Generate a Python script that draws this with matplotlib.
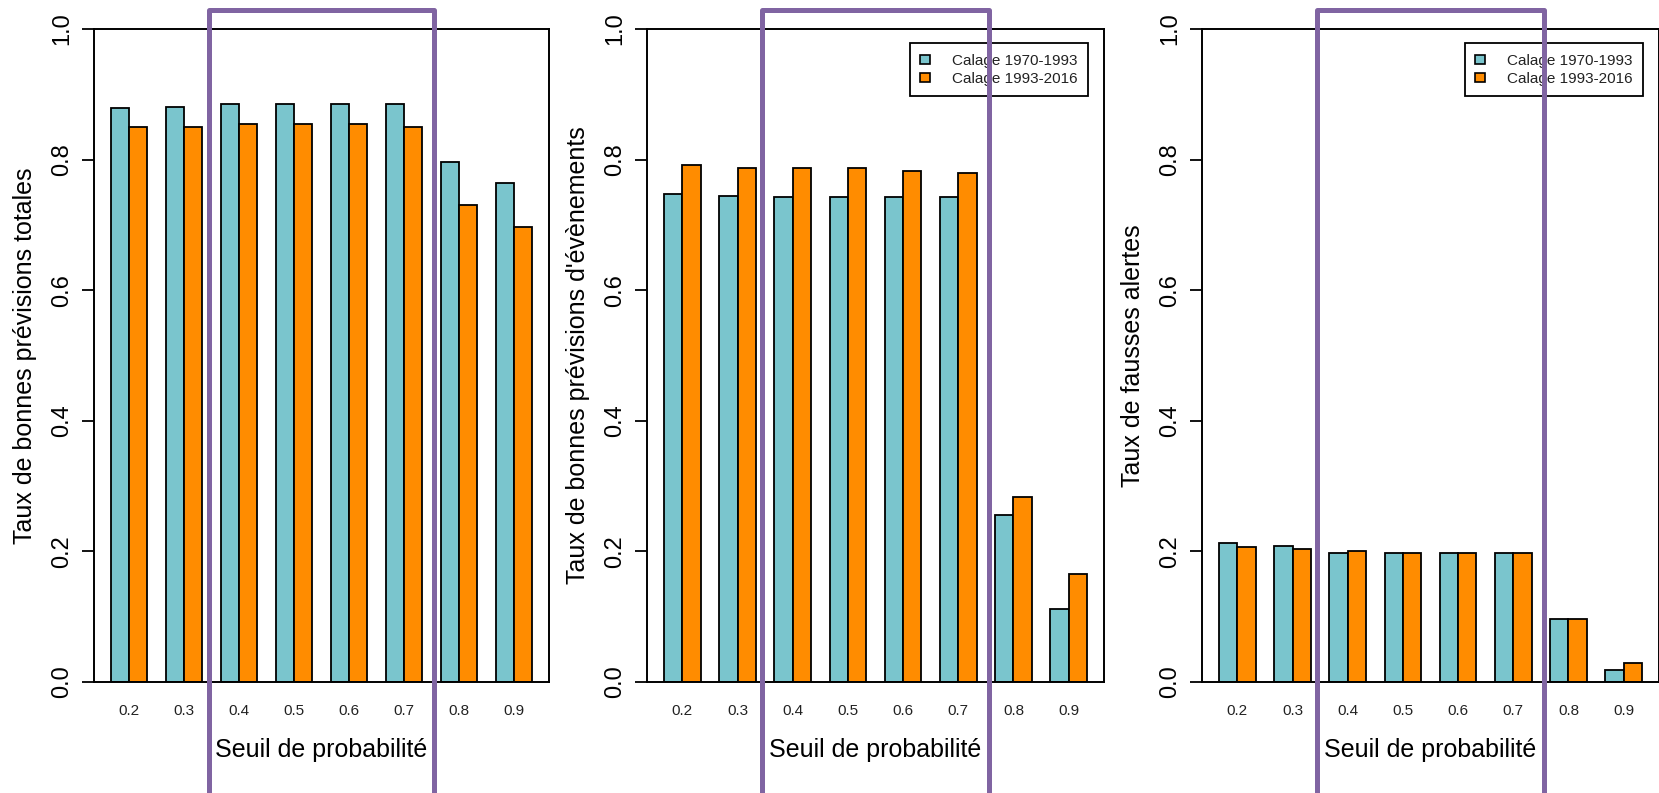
import numpy as np
import matplotlib.pyplot as plt
import matplotlib.transforms as mtransforms
from matplotlib.patches import Patch, Rectangle

plt.rcParams['font.family'] = ['Liberation Sans', 'DejaVu Sans']

# Data
seuils = ["0.2", "0.3", "0.4", "0.5", "0.6", "0.7", "0.8", "0.9"]
series_names = ["Calage 1970-1993", "Calage 1993-2016"]

totales_7093 = [0.879, 0.881, 0.885, 0.885, 0.885, 0.885, 0.796, 0.764]
totales_9316 = [0.850, 0.850, 0.854, 0.854, 0.854, 0.850, 0.730, 0.697]

evenements_7093 = [0.748, 0.744, 0.742, 0.742, 0.742, 0.742, 0.255, 0.112]
evenements_9316 = [0.792, 0.787, 0.787, 0.787, 0.783, 0.780, 0.283, 0.165]

fausses_7093 = [0.213, 0.209, 0.198, 0.198, 0.198, 0.198, 0.096, 0.019]
fausses_9316 = [0.207, 0.204, 0.201, 0.198, 0.198, 0.198, 0.096, 0.029]

ylabels = ["Taux de bonnes prévisions totales",
           "Taux de bonnes prévisions d'évènements",
           "Taux de fausses alertes"]

TEAL = "#7AC5CD"
ORANGE = "#FF8C00"
PURPLE = "#8064A2"

W, H = 1659, 793
fig = plt.figure(figsize=(W / 100, H / 100), dpi=100)

# axes placement in pixels (left, right), top/bottom shared
ax_px = [(94, 549), (647, 1104), (1202, 1659)]
top_px, bot_px = 29, 682

panels = [(totales_7093, totales_9316, False),
          (evenements_7093, evenements_9316, True),
          (fausses_7093, fausses_9316, True)]

groups = np.arange(len(seuils))
x_a = 1.5 + 3 * groups
x_b = 2.5 + 3 * groups
centers = 2 + 3 * groups

for i, ((va, vb, show_leg), (l, r)) in enumerate(zip(panels, ax_px)):
    ax = fig.add_axes([l / W, 1 - bot_px / H, (r - l) / W, (bot_px - top_px) / H])
    ax.bar(x_a, va, width=1, color=TEAL, edgecolor="black", linewidth=1.3)
    ax.bar(x_b, vb, width=1, color=ORANGE, edgecolor="black", linewidth=1.3)
    ax.set_xlim(0.08, 24.92)
    ax.set_ylim(0, 1)
    ax.set_yticks([0, 0.2, 0.4, 0.6, 0.8, 1.0])
    ax.set_yticklabels(["0.0", "0.2", "0.4", "0.6", "0.8", "1.0"])
    ax.set_xticks(centers)
    ax.set_xticklabels(seuils)
    ax.tick_params(axis="y", direction="out", length=8.6, width=1.3,
                   labelsize=17, pad=6.5, labelrotation=90)
    for t in ax.get_yticklabels():
        t.set_va("center")
    ax.tick_params(axis="x", length=0, labelsize=11, pad=16, labelcolor="#222222")
    for s in ax.spines.values():
        s.set_linewidth(1.4)
        s.set_color("black")

    cx = (l + r) / 2
    fig.text(cx / W, 1 - 750 / H, "Seuil de probabilité", fontsize=18,
             ha="center", va="center")
    fig.text((l - 69) / W, 1 - (top_px + bot_px) / 2 / H, ylabels[i], fontsize=18,
             rotation=90, ha="center", va="center")

    if show_leg:
        handles = [Patch(facecolor=TEAL, edgecolor="black", linewidth=1.2),
                   Patch(facecolor=ORANGE, edgecolor="black", linewidth=1.2)]
        w_ax = r - l
        h_ax = bot_px - top_px
        leg = ax.legend(handles, series_names, loc="upper right",
                        bbox_to_anchor=(1 - 16 / w_ax, 1 - 14 / h_ax),
                        borderaxespad=0, fancybox=False, framealpha=1,
                        edgecolor="black", fontsize=11, handlelength=0.6,
                        handleheight=0.55, handletextpad=1.45, borderpad=0.7,
                        labelspacing=0.25, labelcolor="#222222")
        leg.get_frame().set_linewidth(1.3)

    # purple highlight frame around thresholds 0.4 - 0.7
    trans = mtransforms.blended_transform_factory(ax.transData, fig.transFigure)
    y_top = 1 - 10 / H
    rect = Rectangle((6.35, -0.1), 18.65 - 6.35, y_top + 0.1, transform=trans,
                     fill=False, edgecolor=PURPLE, linewidth=3.6,
                     joinstyle="round", clip_on=False, zorder=10)
    fig.add_artist(rect)

fig.savefig("out.png", dpi=100)
